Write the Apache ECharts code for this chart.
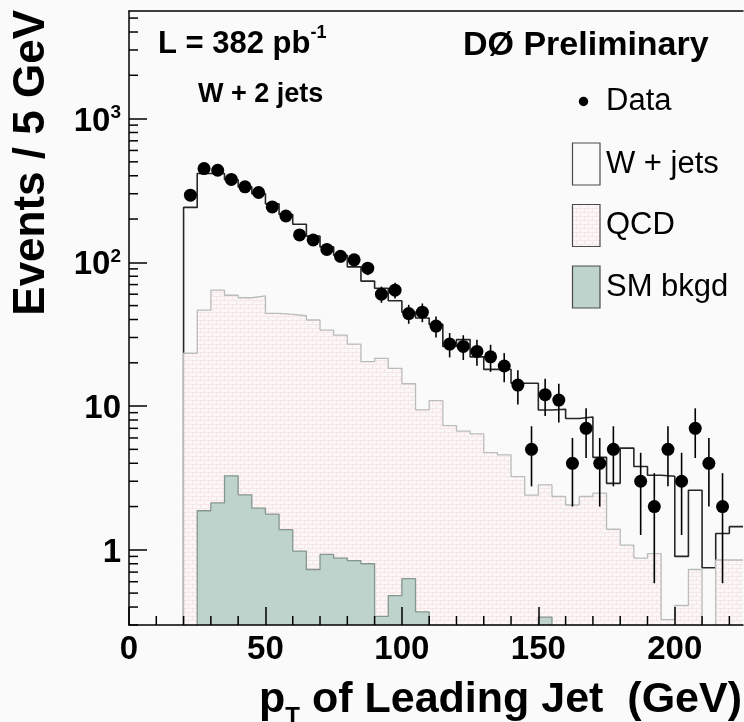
<!DOCTYPE html>
<html>
<head>
<meta charset="utf-8">
<script src="https://cdn.jsdelivr.net/npm/echarts@6/dist/echarts.min.js"></script>
<style>html,body{margin:0;padding:0;background:#fafafa;}#c{width:744px;height:722px;}</style>
</head>
<body>
<div id="c"></div>
<script>
// ---- data (5 GeV bins, low edge of first bin = 20 GeV) ----
const binLow = 20;
const binWidth = 5;
const dataCounts = [293,449,437,377,335,306,243,210,155,143,123,110,104,91,60,64,44,45,36,27,26,24,22,19,14,5,12,11,4,7,4,5,0,3,2,5,3,7,4,2,0];
const wjetsTotal = [241,415,415,375,335,300,255,215,184,152,128,112,93,74,66,54,45,41,37,26,29,22,18,18,14.4,14.4,9.4,9.5,8.2,8.4,4.4,2.9,5.1,3.8,3.3,3.25,0.9,2.6,0.75,1.3,1.45];
const qcd = [23.3,46.5,64,59,56.7,58.5,44.2,43.5,42.5,39.7,33.8,31.2,27,20.4,21.5,18.3,14.3,9.4,10.9,7.3,6.7,6.4,4.75,4.57,3.23,2.4,2.83,2.35,2.05,2.35,2.48,1.39,1.08,0.875,0.94,0.327,0.41,0.73,0,0.85,0.85];
const smBkgd = [0,1.87,2.12,3.27,2.41,1.95,1.77,1.38,0.98,0.73,0.93,0.875,0.84,0.80,0.344,0.48,0.63,0.37,0,0,0,0,0,0,0,0,0.34,0,0,0,0,0,0,0,0,0,0,0,0,0,0];
const xTickLabels = ['0','50','100','150','200'];
const yTickValues = [1,10,100,1000];
const yTickLabels = ['{b|1}','{b|10}','{b|10}{s|2}','{b|10}{s|3}'];
const legendLabels = ['Data','W + jets','QCD','SM bkgd'];

const FONT = '"Liberation Sans", Arial, Helvetica, sans-serif';
const FLOOR = 1e-3; // below axis minimum (empty bins)
const Y_MIN = 0.3, Y_MAX = 5600, X_MIN = 0, X_MAX = 225;

function stepPoints(vals) {
  const pts = [[binLow, FLOOR]];
  vals.forEach((v, i) => pts.push([binLow + i * binWidth, v > 0 ? v : FLOOR]));
  const last = vals[vals.length - 1];
  pts.push([binLow + vals.length * binWidth, last > 0 ? last : FLOOR]);
  return pts;
}
const dataPts = [], errPts = [];
dataCounts.forEach((v, i) => {
  if (v > 0) {
    const xc = binLow + (i + 0.5) * binWidth;
    dataPts.push([xc, v]);
    const e = Math.sqrt(v); // Poisson error
    errPts.push([xc, v - e, v + e]);
  }
});

// QCD brick pattern
const pc = document.createElement('canvas');
pc.width = 8; pc.height = 8;
const g = pc.getContext('2d');
g.fillStyle = '#fcf7f7'; g.fillRect(0, 0, 8, 8);
g.fillStyle = '#f6e6e6';
g.fillRect(0, 0, 8, 1); g.fillRect(0, 4, 8, 1);
g.fillRect(0, 0, 1, 4); g.fillRect(4, 4, 1, 4);
const qcdFill = { image: pc, repeat: 'repeat' };

// minor tick positions
const yMinor = [];
for (let k = -1; k <= 3; k++) for (let m = 2; m <= 9; m++) {
  const v = m * Math.pow(10, k);
  if (v > Y_MIN && v < Y_MAX) yMinor.push(v);
}
const xMinor = [];
for (let x = 10; x < X_MAX; x += 10) if (x % 50 !== 0) xMinor.push(x);

const chart = echarts.init(document.getElementById('c'), null, { renderer: 'canvas' });
const axisLineStyle = { color: '#000', width: 1.5 };
chart.setOption({
  backgroundColor: '#fafafa',
  animation: false,
  grid: { left: 129, right: 1, top: 11, bottom: 97, show: false },
  xAxis: [{
    type: 'value', min: X_MIN, max: X_MAX, interval: 50, z: 10,
    axisLine: { show: true, onZero: false, lineStyle: axisLineStyle },
    axisTick: { show: true, inside: true, length: 18, lineStyle: axisLineStyle },
    splitLine: { show: false },
    axisLabel: {
      margin: 8, showMaxLabel: false,
      color: '#000', fontFamily: FONT, fontWeight: 'bold', fontSize: 33,
      formatter: v => { const i = [0,50,100,150,200].indexOf(v); return i >= 0 ? xTickLabels[i] : ''; }
    }
  }, {
    type: 'value', position: 'top', min: X_MIN, max: X_MAX, z: 10,
    axisLine: { show: true, onZero: false, lineStyle: axisLineStyle },
    axisTick: { show: false }, axisLabel: { show: false }, splitLine: { show: false }
  }],
  yAxis: {
    type: 'log', logBase: 10, min: Y_MIN, max: Y_MAX, z: 10,
    axisLine: { show: true, onZero: false, lineStyle: axisLineStyle },
    axisTick: { show: true, inside: true, length: 18, lineStyle: axisLineStyle },
    splitLine: { show: false },
    axisLabel: {
      margin: 8, showMinLabel: false, showMaxLabel: false,
      padding: [6, 0, 0, 0],
      color: '#000',
      formatter: v => {
        for (let i = 0; i < yTickValues.length; i++) if (Math.abs(Math.log10(v) - Math.log10(yTickValues[i])) < 1e-6) return yTickLabels[i];
        return '';
      },
      rich: {
        b: { fontFamily: FONT, fontWeight: 'bold', fontSize: 33, lineHeight: 36, verticalAlign: 'middle', color: '#000' },
        s: { fontFamily: FONT, fontWeight: 'bold', fontSize: 19, lineHeight: 18, verticalAlign: 'top', color: '#000' }
      }
    }
  },
  series: [
    {
      name: 'W + jets', type: 'line', step: 'end', z: 2, symbol: 'none',
      data: stepPoints(wjetsTotal),
      lineStyle: { color: '#262626', width: 1.6 }
    },
    {
      name: 'QCD', type: 'line', step: 'end', z: 3, symbol: 'none',
      data: stepPoints(qcd),
      lineStyle: { color: '#bbbbbb', width: 1.3 },
      areaStyle: { origin: 'start', color: qcdFill, opacity: 1 }
    },
    {
      name: 'SM bkgd', type: 'line', step: 'end', z: 4, symbol: 'none',
      data: stepPoints(smBkgd),
      lineStyle: { color: '#85958f', width: 1.3 },
      areaStyle: { origin: 'start', color: '#bdd3cb', opacity: 1 }
    },
    {
      name: 'errors', type: 'custom', z: 5, silent: true,
      data: errPts, encode: { x: 0, y: [1, 2] },
      renderItem: (p, api) => {
        const x = api.value(0);
        const a = api.coord([x, api.value(1)]), b = api.coord([x, api.value(2)]);
        return { type: 'line', shape: { x1: a[0], y1: a[1], x2: b[0], y2: b[1] }, style: { stroke: '#000', lineWidth: 1.6 } };
      }
    },
    {
      name: 'Data', type: 'scatter', z: 6, symbol: 'circle', symbolSize: 13,
      data: dataPts, itemStyle: { color: '#000', opacity: 1 }
    },
    {
      name: 'yMinor', type: 'custom', z: 11, silent: true,
      data: yMinor.map(v => [X_MIN, v]),
      renderItem: (p, api) => {
        const c = api.coord([X_MIN, api.value(1)]);
        return { type: 'line', shape: { x1: c[0], y1: c[1], x2: c[0] + 9, y2: c[1] }, style: { stroke: '#000', lineWidth: 1.5 } };
      }
    },
    {
      name: 'xMinor', type: 'custom', z: 11, silent: true,
      data: xMinor.map(x => [x, Y_MIN]),
      renderItem: (p, api) => {
        const c = api.coord([api.value(0), Y_MIN]);
        return { type: 'line', shape: { x1: c[0], y1: c[1], x2: c[0], y2: c[1] - 9 }, style: { stroke: '#000', lineWidth: 1.5 } };
      }
    }
  ],
  graphic: [
    { type: 'text', x: 32, y: 10, rotation: Math.PI / 2, z: 20,
      style: { text: 'Events / 5 GeV', font: 'bold 44px ' + FONT, fill: '#000', align: 'right', verticalAlign: 'middle' } },
    { type: 'text', x: 742, y: 729, z: 20,
      style: { text: '{a|p}{t|T}{a| of Leading Jet  (GeV)}', align: 'right', verticalAlign: 'bottom',
        rich: {
          a: { font: 'bold 43px ' + FONT, fill: '#000', lineHeight: 58, verticalAlign: 'middle' },
          t: { font: 'bold 24px ' + FONT, fill: '#000', lineHeight: 24, verticalAlign: 'bottom' }
        } } },
    { type: 'text', x: 158, y: 24, z: 20,
      style: { text: '{a|L = 382 pb}{s|-1}', align: 'left', verticalAlign: 'top',
        rich: {
          a: { font: 'bold 31px ' + FONT, fill: '#000', lineHeight: 40, verticalAlign: 'middle' },
          s: { font: 'bold 18px ' + FONT, fill: '#000', lineHeight: 18, verticalAlign: 'top' }
        } } },
    { type: 'text', x: 198, y: 94.5, z: 20,
      style: { text: 'W + 2 jets', font: 'bold 27px ' + FONT, fill: '#000', align: 'left', verticalAlign: 'middle' } },
    { type: 'text', x: 463, y: 46, z: 20,
      style: { text: 'DØ Preliminary', font: 'bold 34px ' + FONT, fill: '#000', align: 'left', verticalAlign: 'middle' } },
    // legend
    { type: 'circle', z: 20, shape: { cx: 583.5, cy: 101.5, r: 4.7 }, style: { fill: '#000' } },
    { type: 'text', x: 606, y: 101.5, z: 20,
      style: { text: legendLabels[0], font: '31px ' + FONT, fill: '#000', align: 'left', verticalAlign: 'middle' } },
    { type: 'rect', z: 20, shape: { x: 572.5, y: 143, width: 27.5, height: 42 }, style: { fill: '#fafafa', stroke: '#4a4a4a', lineWidth: 1.2 } },
    { type: 'text', x: 606, y: 164, z: 20,
      style: { text: legendLabels[1], font: '31px ' + FONT, fill: '#000', align: 'left', verticalAlign: 'middle' } },
    { type: 'rect', z: 20, shape: { x: 572.5, y: 204.5, width: 27.5, height: 42 }, style: { fill: qcdFill, stroke: '#4a4a4a', lineWidth: 1.2 } },
    { type: 'text', x: 606, y: 225.5, z: 20,
      style: { text: legendLabels[2], font: '31px ' + FONT, fill: '#000', align: 'left', verticalAlign: 'middle' } },
    { type: 'rect', z: 20, shape: { x: 572.5, y: 266, width: 27.5, height: 42 }, style: { fill: '#bdd3cb', stroke: '#4a4a4a', lineWidth: 1.2 } },
    { type: 'text', x: 606, y: 287, z: 20,
      style: { text: legendLabels[3], font: '31px ' + FONT, fill: '#000', align: 'left', verticalAlign: 'middle' } }
  ]
});
</script>
</body>
</html>
